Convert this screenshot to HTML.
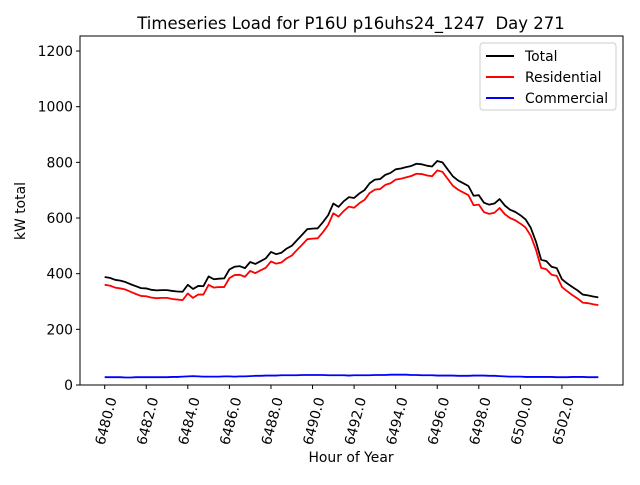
<!DOCTYPE html>
<html><head><meta charset="utf-8"><style>
body{margin:0;background:#fff}
svg{font-family:"DejaVu Sans","Liberation Sans",sans-serif}
</style></head><body>
<svg id="c" width="640" height="480" viewBox="0 0 640 480">
<rect x="0" y="0" width="640" height="480" fill="#fff"/>
<text x="351" y="29" text-anchor="middle" font-size="16.5" xml:space="preserve">Timeseries Load for P16U p16uhs24_1247&#160; Day 271</text>
<text x="351" y="462" text-anchor="middle" font-size="13.9">Hour of Year</text>
<text transform="translate(25,211) rotate(-90)" text-anchor="middle" font-size="13.9">kW total</text>
<g id="plot"></g>
<rect x="80" y="36" width="543" height="349" fill="none" stroke="#000" stroke-width="1"/>
<g>
<rect x="480" y="43" width="136" height="67" fill="#fff" stroke="#ccc" rx="3"/>
<line x1="486" y1="56" x2="514" y2="56" stroke="#000" stroke-width="2"/>
<text x="525" y="61" font-size="13.9">Total</text>
<line x1="486" y1="77" x2="514" y2="77" stroke="#f00" stroke-width="2"/>
<text x="525" y="82" font-size="13.9">Residential</text>
<line x1="486" y1="98" x2="514" y2="98" stroke="#00f" stroke-width="2"/>
<text x="525" y="103" font-size="13.9">Commercial</text>
</g>
</svg>
<script>
const startHour = 6480;
const stepHour = 0.25;
const totalValues = [388,385,378,375,370,362,355,348,347,342,340,341,341,338,336,335,360,345,356,355,390,380,382,383,415,425,427,420,442,435,445,455,478,470,475,490,500,520,540,560,562,563,585,610,652,640,660,675,672,688,700,725,738,740,755,762,775,778,783,787,795,793,788,785,805,800,775,750,735,725,715,680,682,655,648,652,668,645,630,622,610,595,565,515,450,445,425,420,380,365,352,340,325,322,318,315];
const residentialValues = [360,357,350,347,343,335,327,320,319,314,312,313,313,309,307,305,329,313,325,325,360,350,352,352,384,395,396,389,410,402,412,421,444,436,440,455,465,485,504,524,526,527,549,575,617,605,625,641,637,653,665,690,702,704,719,725,738,741,746,751,759,758,753,750,771,766,741,716,702,692,682,646,648,621,615,619,636,614,600,592,580,566,536,486,421,416,396,392,352,337,323,311,296,294,290,287];
const commercialValues = [28,28,28,28,27,27,28,28,28,28,28,28,28,29,29,30,31,32,31,30,30,30,30,31,31,30,31,31,32,33,33,34,34,34,35,35,35,35,36,36,36,36,36,35,35,35,35,34,35,35,35,35,36,36,36,37,37,37,37,36,36,35,35,35,34,34,34,34,33,33,33,34,34,34,33,33,32,31,30,30,30,29,29,29,29,29,29,28,28,28,29,29,29,28,28,28];
const xTicks = [6480,6482,6484,6486,6488,6490,6492,6494,6496,6498,6500,6502];
const yTicks = [0,200,400,600,800,1000,1200];

const L=80,R=623,T=36,B=385;
const n=totalValues.length;
const x0=startHour, x1=startHour+(n-1)*stepHour, m=(x1-x0)*0.05;
function xs(h){return L+(h-(x0-m))/((x1+m)-(x0-m))*(R-L);}
function ys(v){return B-v/1254*(B-T);}
const NS="http://www.w3.org/2000/svg";
const g=document.getElementById('plot');
function mk(tag,attrs){const e=document.createElementNS(NS,tag);for(const k in attrs)e.setAttribute(k,attrs[k]);g.appendChild(e);return e;}
yTicks.forEach(v=>{
  const y=ys(v);
  const t=mk('line',{x1:L-4,y1:y,x2:L,y2:y,stroke:'#000'});
  
  
  const l=mk('text',{x:L-7,y:y+5,'text-anchor':'end','font-size':13.9});
  l.textContent=v;
  
  
});
xTicks.forEach(h=>{
  const x=xs(h);
  const t=mk('line',{x1:x,y1:B,x2:x,y2:B+4,stroke:'#000'});
  
  
  const l=mk('text',{x:0,y:0,'text-anchor':'middle','font-size':13.9,transform:`translate(${x+1},${421}) rotate(-75) translate(0,5)`});
  l.textContent=h.toFixed(1);
  
  
});
function series(vals,color,name){
  const pts=vals.map((v,i)=>xs(x0+i*stepHour).toFixed(2)+','+ys(v).toFixed(2)).join(' ');
  const p=mk('polyline',{points:pts,fill:'none',stroke:color,'stroke-width':1.8,'stroke-linejoin':'round'});
  
  
}
series(totalValues,'#000','total-line');
series(residentialValues,'#f00','residential-line');
series(commercialValues,'#00f','commercial-line');
</script>
</body></html>
